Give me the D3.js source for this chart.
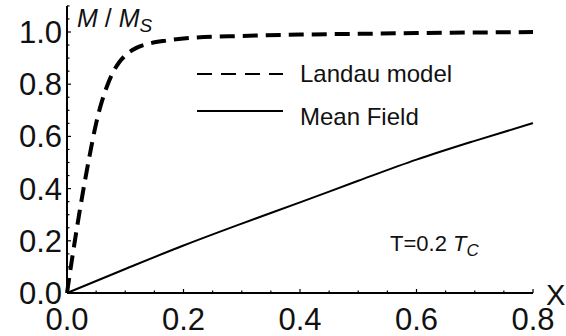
<!DOCTYPE html>
<html>
<head>
<meta charset="utf-8">
<script src="https://cdn.jsdelivr.net/npm/d3@7"></script>
<style>
body { margin: 0; background: #fff; }
text { font-family: "Liberation Sans", Arial, sans-serif; fill: #111; }
</style>
</head>
<body>
<div id="chart"></div>
<script>
// data
var landauX = [0, 0.01, 0.02, 0.03, 0.04, 0.05, 0.06, 0.07, 0.08, 0.09, 0.10, 0.12, 0.14, 0.17, 0.2, 0.3, 0.4, 0.5, 0.6, 0.7, 0.8];
var landauY = [0, 0.15, 0.29, 0.42, 0.54, 0.65, 0.735, 0.80, 0.85, 0.885, 0.91, 0.94, 0.955, 0.967, 0.975, 0.985, 0.99, 0.993, 0.996, 0.998, 1.0];
var meanX = [0, 0.1, 0.2, 0.3, 0.4, 0.5, 0.6, 0.7, 0.8];
var meanY = [0, 0.092, 0.182, 0.266, 0.347, 0.43, 0.511, 0.583, 0.651];
var xTicks = [0, 0.2, 0.4, 0.6, 0.8];
var yTicks = [0, 0.2, 0.4, 0.6, 0.8, 1.0];
var legendNames = ["Landau model", "Mean Field"];

var w = 566, h = 336;
var svg = d3.select("#chart").append("svg")
    .attr("width", w)
    .attr("height", h);

var x = d3.scaleLinear().domain([0, 0.8]).range([67, 533]);
var y = d3.scaleLinear().domain([0, 1.0]).range([293, 32]);

// axes: ticks point inward, minor every 0.05
var xMinor = d3.range(0, 0.8001, 0.05);
var yMinor = d3.range(0, 1.1001, 0.05);

var gx = svg.append("g").attr("transform", "translate(0," + y(0) + ")");
gx.append("line").attr("x1", x(0)).attr("x2", x(0.8))
    .attr("stroke", "#000").attr("stroke-width", 2);
gx.selectAll(".mt").data(xMinor).enter().append("line")
    .attr("x1", function(d){ return x(d); }).attr("x2", function(d){ return x(d); })
    .attr("y1", 0).attr("y2", function(d, i){ return i % 4 == 0 ? -4 : -2.5; })
    .attr("stroke", "#000").attr("stroke-width", 1.2);
gx.selectAll(".lab").data(xTicks).enter().append("text")
    .attr("x", function(d){ return x(d); })
    .attr("y", 37)
    .attr("text-anchor", "middle")
    .style("font-size", "31px")
    .text(function(d){ return d3.format(".1f")(d); });

var gy = svg.append("g").attr("transform", "translate(" + x(0) + ",0)");
gy.append("line").attr("y1", y(0)).attr("y2", y(1.1))
    .attr("stroke", "#000").attr("stroke-width", 2);
gy.selectAll(".mt").data(yMinor).enter().append("line")
    .attr("y1", function(d){ return y(d); }).attr("y2", function(d){ return y(d); })
    .attr("x1", 0).attr("x2", function(d, i){ return i % 4 == 0 ? 4 : 2.5; })
    .attr("stroke", "#000").attr("stroke-width", 1.2);
gy.selectAll(".lab").data(yTicks).enter().append("text")
    .attr("x", -5)
    .attr("y", function(d){ return y(d) + 11; })
    .attr("text-anchor", "end")
    .style("font-size", "31px")
    .text(function(d){ return d3.format(".1f")(d); });

// axis titles
var yt = svg.append("text").attr("x", 77).attr("y", 27).style("font-size", "25px");
yt.append("tspan").style("font-style", "italic").text("M");
yt.append("tspan").text(" / ");
yt.append("tspan").style("font-style", "italic").text("M");
yt.append("tspan").attr("dy", 5).style("font-size", "19px").style("font-style", "italic").text("S");

svg.append("text").attr("x", 546).attr("y", 305)
    .style("font-size", "29px").text("X");

// curves
var line = d3.line()
    .x(function(d){ return x(d[0]); })
    .y(function(d){ return y(d[1]); })
    .curve(d3.curveMonotoneX);

svg.append("path")
    .datum(d3.zip(landauX, landauY))
    .attr("d", line)
    .attr("fill", "none")
    .attr("stroke", "#000")
    .attr("stroke-width", 4)
    .attr("stroke-dasharray", "15,8");

svg.append("path")
    .datum(d3.zip(meanX, meanY))
    .attr("d", line)
    .attr("fill", "none")
    .attr("stroke", "#000")
    .attr("stroke-width", 2);

// legend
var lg = svg.append("g");
lg.selectAll("line").data(legendNames).enter().append("line")
    .attr("x1", 197).attr("x2", 283)
    .attr("y1", function(d, i){ return 74 + i * 37; })
    .attr("y2", function(d, i){ return 74 + i * 37; })
    .attr("stroke", "#000")
    .attr("stroke-width", 1.8)
    .attr("stroke-dasharray", function(d, i){ return i == 0 ? "15,9" : null; });
lg.selectAll("text").data(legendNames).enter().append("text")
    .attr("x", 300)
    .attr("y", function(d, i){ return 82 + i * 43; })
    .style("font-size", "24px")
    .text(function(d){ return d; });

var tl = svg.append("text").attr("x", 390).attr("y", 251).style("font-size", "22px");
tl.append("tspan").text("T=0.2 ");
tl.append("tspan").style("font-style", "italic").text("T");
tl.append("tspan").attr("dy", 5).style("font-size", "17px").style("font-style", "italic").text("C");
</script>
</body>
</html>
